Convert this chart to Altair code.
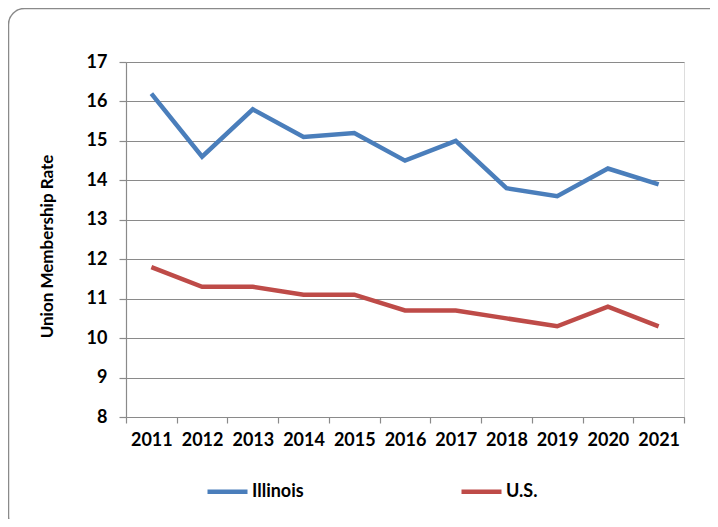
import altair as alt
import pandas as pd

years = ["2011", "2012", "2013", "2014", "2015", "2016", "2017", "2018", "2019", "2020", "2021"]
illinois = [16.2, 14.6, 15.8, 15.1, 15.2, 14.5, 15.0, 13.8, 13.6, 14.3, 13.9]
us = [11.8, 11.3, 11.3, 11.1, 11.1, 10.7, 10.7, 10.5, 10.3, 10.8, 10.3]
series_names = ["Illinois", "U.S."]
series_colors = ["#4A7EBB", "#BE4B48"]
y_ticks = [8, 9, 10, 11, 12, 13, 14, 15, 16, 17]

rows = []
for name, vals in zip(series_names, [illinois, us]):
    for yr, v in zip(years, vals):
        rows.append({"Year": yr, "Rate": v, "Series": name})
df = pd.DataFrame(rows)

FONT = "Lato"
GRAY = "#8a8a8a"

lines = alt.Chart(df).mark_line(strokeWidth=4.5).encode(
    x=alt.X(
        "Year:O",
        sort=years,
        scale=alt.Scale(type="band", paddingInner=0, paddingOuter=0),
        axis=alt.Axis(
            title=None,
            labelAngle=0,
            labelFont=FONT,
            labelFontSize=18,
            labelFontWeight="bold",
            labelColor="#000000",
            labelPadding=8,
            tickBand="extent",
            tickSize=6,
            tickColor=GRAY,
            domainColor=GRAY,
            domainWidth=1.2,
            tickWidth=1.2,
            grid=False,
        ),
    ),
    y=alt.Y(
        "Rate:Q",
        scale=alt.Scale(domain=[8, 17], nice=False, zero=False),
        axis=alt.Axis(
            title="Union Membership Rate",
            values=y_ticks,
            labelFont=FONT,
            labelFontSize=18,
            labelFontWeight="bold",
            labelColor="#000000",
            labelPadding=12,
            tickSize=7,
            tickColor=GRAY,
            tickWidth=1.2,
            domainColor=GRAY,
            domainWidth=1.2,
            grid=True,
            gridColor=GRAY,
            gridWidth=1.2,
            titleFont=FONT,
            titleFontSize=17,
            titleFontWeight="bold",
            titleColor="#000000",
            titleAngle=270,
            titleAlign="center",
            titleBaseline="middle",
            titleX=-79,
            titleY=184,
        ),
    ),
    color=alt.Color(
        "Series:N",
        scale=alt.Scale(domain=series_names, range=series_colors),
        legend=alt.Legend(
            title=None,
            orient="none",
            direction="horizontal",
            legendX=79,
            legendY=407,
            symbolType="stroke",
            symbolSize=1600,
            symbolStrokeWidth=4.5,
            labelFont=FONT,
            labelFontSize=18,
            labelFontWeight="bold",
            labelColor="#000000",
            labelOffset=2,
            columnPadding=148,
        ),
    ),
)

border = alt.Chart(alt.Data(values=[{"k": 1}])).mark_rect(
    fill="transparent", stroke=GRAY, strokeWidth=1.5, cornerRadius=16, clip=False
).encode(
    x=alt.value(-117.5),
    x2=alt.value(600),
    y=alt.value(-53.5),
    y2=alt.value(470),
)

chart = alt.layer(border, lines).properties(
    width=558,
    height=355,
    autosize=alt.AutoSizeParams(type="none"),
    padding={"left": 118, "top": 54, "right": 26, "bottom": 102},
).configure_view(stroke=None).configure(background="white")

chart.save("out.html", embed_options={"renderer": "svg", "actions": False})
